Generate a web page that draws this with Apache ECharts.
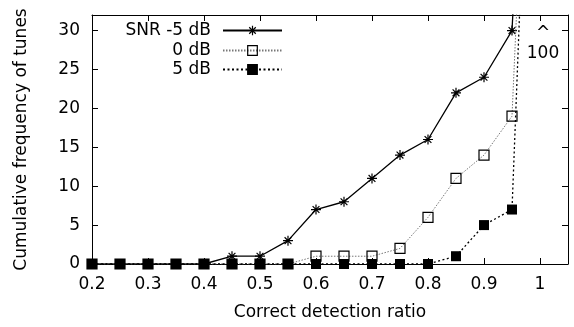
<!DOCTYPE html>
<html><head><meta charset="utf-8">
<script src="https://cdn.jsdelivr.net/npm/echarts@6/dist/echarts.min.js"></script>
<style>html,body{margin:0;padding:0;background:#fff}#c{width:574px;height:327px}</style>
</head><body><div id="c"></div>
<script>
const xValues = [0.2,0.25,0.3,0.35,0.4,0.45,0.5,0.55,0.6,0.65,0.7,0.75,0.8,0.85,0.9,0.95,1.0];
const snrM5 = [0,0,0,0,0,1,1,3,7,8,11,14,16,22,24,30,100];
const snr0  = [0,0,0,0,0,0,0,0,1,1,1,2,6,11,14,19,100];
const snr5  = [0,0,0,0,0,0,0,0,0,0,0,0,0,1,5,7,100];
const seriesNames = ['SNR -5 dB','0 dB','5 dB'];
const xTicks = ['0.2','0.3','0.4','0.5','0.6','0.7','0.8','0.9','1'];
const yTicks = ['0','5','10','15','20','25','30'];
const noteText = '^\n100';
const notePos = [1.0, 28.3];

const FONT = 'DejaVu Sans';
const FS = 17;
const pair = arr => xValues.map((x,i)=>[x,arr[i]]);
const star = 'path://M5,0L5,10M0,5L10,5M1.6,1.6L8.4,8.4M1.6,8.4L8.4,1.6';

const chart = echarts.init(document.getElementById('c'));
const xBase = {type:'value', min:0.2, max:1.05, interval:0.1,
  axisLine:{onZero:false,lineStyle:{color:'#000',width:1}},
  axisTick:{inside:true,length:6,lineStyle:{color:'#000'}},
  splitLine:{show:false}};
const yBase = {type:'value', min:0, max:32, interval:5,
  axisLine:{show:true,onZero:false,lineStyle:{color:'#000',width:1}},
  axisTick:{show:true,inside:true,length:6,lineStyle:{color:'#000'}},
  splitLine:{show:false}};
const legendBase = {orient:'horizontal', right:291, itemWidth:59, itemHeight:12, padding:0, align:'right',
  itemStyle:{borderWidth:1.2},
  textStyle:{fontFamily:FONT,fontSize:FS,color:'#000',padding:[0,7,0,0]}};
chart.setOption({
  animation:false,
  grid:{left:92,right:6,top:15,bottom:63},
  legend:[
    Object.assign({},legendBase,{top:22,data:[seriesNames[0]]}),
    Object.assign({},legendBase,{top:42,data:[seriesNames[1]]}),
    Object.assign({},legendBase,{top:61,data:[seriesNames[2]]})
  ],
  xAxis:[
    Object.assign({},xBase,{position:'bottom',
      name:'Correct detection ratio', nameLocation:'middle', nameGap:40,
      nameTextStyle:{fontFamily:FONT,fontSize:FS,color:'#000'},
      axisLabel:{fontFamily:FONT,fontSize:FS,color:'#000',margin:12,
        formatter:v=>{const s=String(Math.round(v*100)/100);return xTicks.includes(s)?s:'';}}}),
    Object.assign({},xBase,{position:'top',axisLabel:{show:false}})
  ],
  yAxis:[
    Object.assign({},yBase,{position:'left',
      name:'Cumulative frequency of tunes', nameLocation:'middle', nameGap:62,
      nameTextStyle:{fontFamily:FONT,fontSize:FS,color:'#000'},
      axisLabel:{fontFamily:FONT,fontSize:FS,color:'#000',margin:12,
        formatter:v=>yTicks.includes(String(v))?String(v):''}}),
    Object.assign({},yBase,{position:'right',axisLabel:{show:false}})
  ],
  series:[
    {name:seriesNames[0],type:'line',data:pair(snrM5),clip:true,
      symbol:star,symbolSize:10,
      lineStyle:{color:'#000',width:1.3,type:'solid'},
      itemStyle:{color:'#000',borderColor:'#000',borderWidth:1.2},z:3},
    {name:seriesNames[1],type:'line',data:pair(snr0),clip:true,
      symbol:'rect',symbolSize:10,
      lineStyle:{color:'#777',width:1,type:[1.5,1.5]},
      itemStyle:{color:'rgba(255,255,255,0)',borderColor:'#000',borderWidth:1.2},z:4},
    {name:seriesNames[2],type:'line',data:pair(snr5),clip:true,
      symbol:'rect',symbolSize:10,
      lineStyle:{color:'#000',width:1.3,type:[2,2.5]},
      itemStyle:{color:'#000',borderColor:'#000',borderWidth:0},z:5},
    {type:'scatter',data:[notePos],symbolSize:0,silent:true,
      itemStyle:{opacity:1},
      label:{show:true,position:'inside',offset:[3,0],formatter:noteText,fontFamily:FONT,fontSize:FS,color:'#000',lineHeight:20,textBorderWidth:0}}
  ]
});
</script></body></html>
